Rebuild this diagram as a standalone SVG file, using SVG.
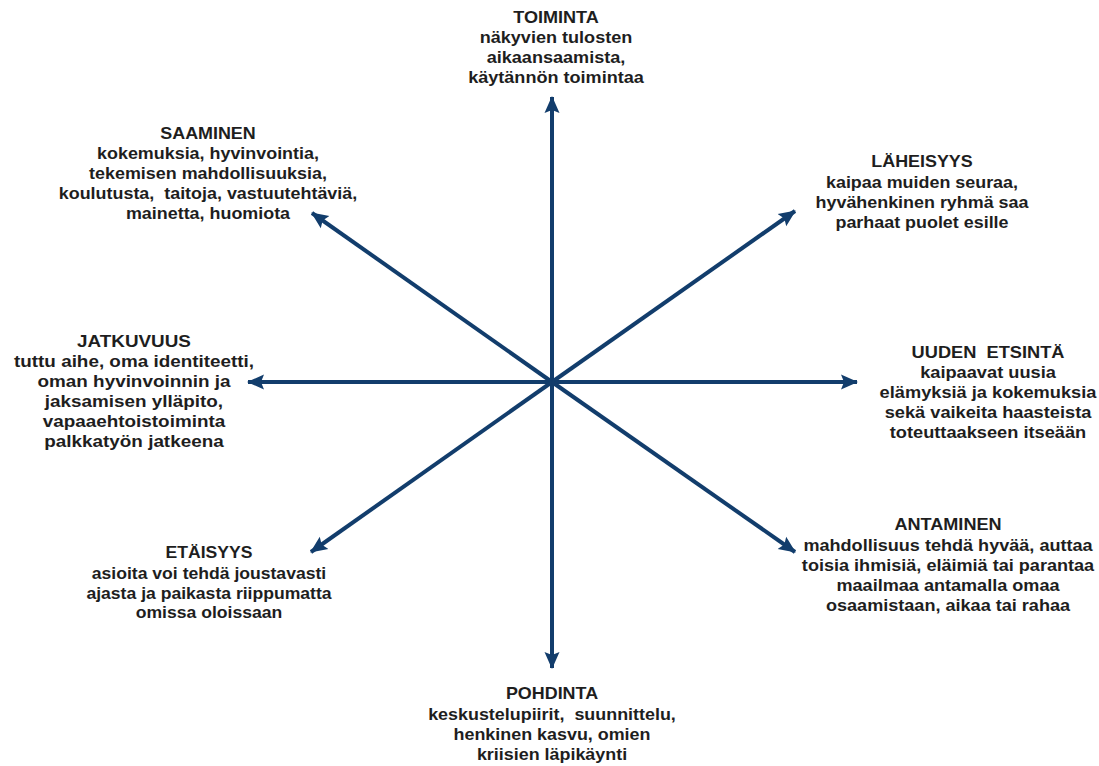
<svg xmlns="http://www.w3.org/2000/svg" width="1099" height="766" viewBox="0 0 1099 766">
<defs>
<marker id="ah" markerUnits="userSpaceOnUse" markerWidth="17" markerHeight="17" viewBox="0 0 17 17" refX="16" refY="8.5" orient="auto">
<path d="M0,1 L17,8.5 L0,16 L3,8.5 Z" fill="#123d6c"/>
</marker>
<style>
.c line{stroke:#123d6c;stroke-width:4;marker-end:url(#ah)}
text{font-family:"Liberation Sans",Arial,sans-serif;font-weight:bold;font-size:16px;fill:#1e1e1e;text-anchor:middle}
</style>
</defs>
<rect width="1099" height="766" fill="#fff"/>
<g class="c" id="connectors">
<line x1="552" y1="382" x2="552" y2="97"/>
<line x1="552" y1="382" x2="552" y2="668"/>
<line x1="552" y1="382" x2="248" y2="382"/>
<line x1="552" y1="382" x2="857" y2="382"/>
<line x1="552" y1="382" x2="312" y2="213"/>
<line x1="552" y1="382" x2="795" y2="211"/>
<line x1="552" y1="382" x2="311" y2="552"/>
<line x1="552" y1="382" x2="795" y2="552"/>
</g>
<g id="toiminta" transform="translate(556 0) scale(1.13 1)"><text x="0" y="23">TOIMINTA</text><text x="0" y="43">näkyvien tulosten</text><text x="0" y="63">aikaansaamista,</text><text x="0" y="83">käytännön toimintaa</text></g>
<g id="saaminen" transform="translate(208 0) scale(1.12 1)"><text x="0" y="139">SAAMINEN</text><text x="0" y="159">kokemuksia, hyvinvointia,</text><text x="0" y="179">tekemisen mahdollisuuksia,</text><text x="0" y="199">koulutusta,&#160; taitoja, vastuutehtäviä,</text><text x="0" y="219">mainetta, huomiota</text></g>
<g id="laheisyys" transform="translate(922 0) scale(1.12 1)"><text x="0" y="167">LÄHEISYYS</text><text x="0" y="188">kaipaa muiden seuraa,</text><text x="0" y="208">hyvähenkinen ryhmä saa</text><text x="0" y="228">parhaat puolet esille</text></g>
<g id="jatkuvuus" transform="translate(134 0) scale(1.18 1)"><text x="0" y="347">JATKUVUUS</text><text x="0" y="367">tuttu aihe, oma identiteetti,</text><text x="0" y="387">oman hyvinvoinnin ja</text><text x="0" y="407">jaksamisen ylläpito,</text><text x="0" y="427">vapaaehtoistoiminta</text><text x="0" y="447">palkkatyön jatkeena</text></g>
<g id="uuden" transform="translate(988 0) scale(1.14 1)"><text x="0" y="358">UUDEN&#160; ETSINTÄ</text><text x="0" y="378">kaipaavat uusia</text><text x="0" y="398">elämyksiä ja kokemuksia</text><text x="0" y="418">sekä vaikeita haasteista</text><text x="0" y="438">toteuttaakseen itseään</text></g>
<g id="etaisyys" transform="translate(209 0) scale(1.1 1)"><text x="0" y="558">ETÄISYYS</text><text x="0" y="579">asioita voi tehdä joustavasti</text><text x="0" y="599">ajasta ja paikasta riippumatta</text><text x="0" y="618">omissa oloissaan</text></g>
<g id="antaminen" transform="translate(948 0) scale(1.13 1)"><text x="0" y="530">ANTAMINEN</text><text x="0" y="551">mahdollisuus tehdä hyvää, auttaa</text><text x="0" y="571">toisia ihmisiä, eläimiä tai parantaa</text><text x="0" y="591">maailmaa antamalla omaa</text><text x="0" y="611">osaamistaan, aikaa tai rahaa</text></g>
<g id="pohdinta" transform="translate(552 0) scale(1.12 1)"><text x="0" y="699">POHDINTA</text><text x="0" y="720">keskustelupiirit,&#160; suunnittelu,</text><text x="0" y="740">henkinen kasvu, omien</text><text x="0" y="760">kriisien läpikäynti</text></g>
</svg>
